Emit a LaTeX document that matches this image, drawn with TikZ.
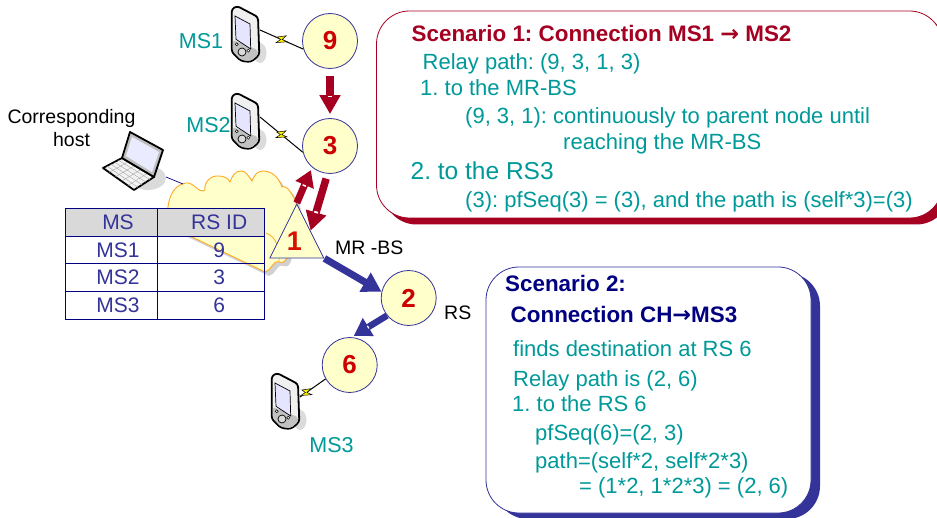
\documentclass[tikz,border=0pt]{standalone}
\usepackage{fontspec}
\setmainfont{Liberation Sans}
\newfontfamily\arrowfont{DejaVu Sans}
\usetikzlibrary{arrows.meta,calc,shapes.geometric}
\definecolor{teal1}{HTML}{009999}
\definecolor{blue1}{HTML}{333399}
\definecolor{navy1}{HTML}{000080}
\definecolor{red1}{HTML}{A50021}
\definecolor{digit}{HTML}{CC0000}
\definecolor{pale}{HTML}{FFFFCC}
\definecolor{cloudline}{HTML}{FFAA22}
\newcommand{\fs}[1]{\fontsize{#1pt}{#1pt}\selectfont}
\newcommand{\rarr}{{\arrowfont\bfseries →}}
\newcommand{\ca}[1]{\hspace*{13pt}\raisebox{-1.5pt}{#1}}
\newcommand{\cb}[1]{\hspace*{16pt}\raisebox{-1.5pt}{#1}}
\frenchspacing
\tikzset{
  rsnode/.style={circle,draw=blue1,line width=0.8pt,fill=pale,minimum size=55pt,inner sep=0pt,font=\fs{26}\bfseries,text=digit},
  bsnode/.style={isosceles triangle,isosceles triangle stretches,shape border rotate=90,draw=blue1,line width=0.8pt,fill=pale,minimum width=54pt,minimum height=54pt,inner sep=0pt,font=\fs{27}\bfseries,text=digit!85!orange},
  redarrow/.style={draw=red1,line width=7.5pt,-{Triangle[length=19pt,width=20pt]}},
  bluearrow/.style={draw=blue1,line width=7pt,-{Triangle[length=19pt,width=21pt]}},
  whitemark/.style={draw=white,line width=4pt},
  radiolink/.style={draw=black,line width=1pt},
  plainlink/.style={draw=navy1,line width=0.7pt},
  lab/.style={font=\fs{21.5},text=teal1,inner sep=0pt},
  blacklab/.style={font=\fs{19.5},text=black,inner sep=0pt},
  body/.style={font=\fs{22},text=teal1,inner sep=0pt,anchor=base west},
  title/.style={font=\fs{22.4}\bfseries,inner sep=0pt,anchor=base west},
  cell/.style={rectangle,draw=navy1,line width=1pt,inner sep=0pt,font=\fs{21},text=blue1},
  cellA/.style={cell,minimum width=92pt},
  cellB/.style={cell,minimum width=107.5pt},
  box/.style={rectangle,rounded corners=33pt,inner sep=0pt},
  phone/.pic={
    \fill[black!14] (29,47) ellipse (6.5 and 10);
    \draw[black,line width=1.8pt,fill=black!6,rounded corners=3pt] (0.7,3) -- (6,0) -- (27,11) -- (28.3,49) -- (20,56) -- (10,55) -- (0.7,46) -- cycle;
    \fill[black!24,rounded corners=2pt] (1.8,34) -- (27,44) -- (27,49) -- (20,55) -- (10,54) -- (1.8,45) -- cycle;
    \draw[black,line width=0.7pt,fill=blue!10!white] (4,10) -- (19,18) -- (19.7,43) -- (5,33.3) -- cycle;
    \draw[black,line width=0.7pt,fill=black!15] (11,46) circle (4);
    \draw[black,line width=0.5pt,fill=white] (5.7,38.3) circle (1.5);
    \draw[black,line width=0.5pt,fill=white] (17.3,44.7) circle (1.5);
    \coordinate (-port) at (29,24);
  },
  bolt/.pic={
    \draw[black,line width=0.5pt,fill=yellow] (-4.5,-2.5) -- (4.5,-3.8) -- (0.5,0) -- (5.5,2.2) -- (-5.5,3) -- (-1,0) -- cycle;
  },
}
\begin{document}
\begin{tikzpicture}[x=1pt,y=-1pt]
\clip (0,0) rectangle (937,518);
\fill[white] (0,0) rectangle (937,518);

% cloud
\def\cloudpath{(167,225) to[out=90,in=190] (186,183) to[out=10,in=-150] (205,190)
  to[out=100,in=175] (218,176) to[out=0,in=120] (230,182)
  to[out=70,in=180] (241,171) to[out=0,in=130] (252,181)
  to[out=70,in=180] (263,171) to[out=0,in=110] (282,187)
  to[out=30,in=-60] (296,205) -- (290,235)
  to[out=-100,in=-20] (279,262) to[out=160,in=10] (265,272) -- cycle}
\fill[black!18,shift={(4pt,-4pt)}] \cloudpath;
\draw[cloudline,line width=0.9pt,fill=pale] \cloudpath;
\draw[cloudline,line width=0.8pt] (266,233) to[out=-20,in=90] (279,262);

% phones
\pic (ph1) at (231,6) {phone};
\pic (ph2) at (231,93) {phone};
\pic (ph3) at (271,373) {phone};

% relay nodes
\node[rsnode] (n9) at (330,41) {9};
\node[rsnode] (n3) at (330,146) {3};
\node[rsnode] (n2) at (408.7,298) {2};
\node[rsnode] (n6) at (349.7,365) {6};

% table
\node[cellA,fill=black!15,minimum height=27.5pt] (h1) at (111.5,222.3) {\ca{MS}};
\node[cellB,fill=black!15,minimum height=27.5pt] (h2) at (211.2,222.3) {\cb{RS ID}};
\node[cellA,minimum height=27.7pt] (a1) at (111.5,250) {\ca{MS1}};
\node[cellB,minimum height=27.7pt] (b1) at (211.2,250) {\cb{9}};
\node[cellA,minimum height=27.7pt] (a2) at (111.5,277.7) {\ca{MS2}};
\node[cellB,minimum height=27.7pt] (b2) at (211.2,277.7) {\cb{3}};
\node[cellA,minimum height=27.7pt] (a3) at (111.5,305.3) {\ca{MS3}};
\node[cellB,minimum height=27.7pt] (b3) at (211.2,305.3) {\cb{6}};

% links to phones
\draw[radiolink] (ph1-port) -- coordinate[pos=.5] (m1) (n9.197);
\pic at (m1) {bolt};
\draw[radiolink] (ph2-port) -- coordinate[pos=.5] (m2) (n3.193);
\pic at (m2) {bolt};
\draw[radiolink] (ph3-port) -- coordinate[pos=.25] (m3) (n6.210);
\pic at (m3) {bolt};

% block arrows
\draw[redarrow,shorten <=7pt,shorten >=4pt] (n9.south) -- (n3.north);
\draw[whitemark] ($(n9.south)!.545!(n3.north)$) -- ($(n9.south)!.575!(n3.north)$);

% base station
\node[bsnode,anchor=apex] (n1) at (296.8,203) {\raisebox{4pt}{1}\hspace*{5pt}};

\draw[redarrow,-{Triangle[length=16pt,width=19pt]},line width=7pt,shorten >=3pt] (n1.apex) -- (n3.230);
\draw[whitemark,line width=3.5pt] ($(n1.apex)!.47!(n3.230)$) -- ($(n1.apex)!.51!(n3.230)$);
\coordinate (n1r) at ($(n1.apex)!.5!(n1.right corner)$);
\draw[redarrow,shorten <=5pt] (n3.265) -- (n1r);
\draw[whitemark] ($(n3.265)!.66!(n1r)$) -- ($(n3.265)!.69!(n1r)$);
\draw[bluearrow] (n1.right corner) -- (n2.167);
\draw[bluearrow,-{Triangle[length=17pt,width=20pt]},line width=6.5pt,shorten >=2.5pt] (n2.219) -- (n6.86);
\draw[whitemark,line width=3pt] ($(n2.219)!.52!(n6.86)$) -- ($(n2.219)!.55!(n6.86)$);

% laptop
\coordinate (lp) at (166,177);
\coordinate (cl) at (183,184);
\draw[plainlink] (lp) -- (cl);
\fill[black!14] (148,178) ellipse (18 and 12);
\draw[black,line width=1.8pt,fill=black!5,line join=round] (103,168) -- (122,158) -- (154,177) -- (134,190) -- cycle;
\foreach \t in {.2,.4,.6,.8}{
  \draw[black!35,line width=0.4pt] ($(103,168)!\t!(134,190)$) -- ($(122,158)!\t!(154,177)$);
  \draw[black!35,line width=0.4pt] ($(103,168)!\t!(122,158)$) -- ($(134,190)!\t!(154,177)$);
}
\draw[black,line width=1.8pt,fill=black!25,line join=round] (130,132) -- (163,150) -- (154,177) -- (122,158) -- cycle;
\fill[blue!8!white] (132,137) -- (159,152) -- (152,172) -- (126,156) -- cycle;

% labels
\node[lab] (lms1) at (201,41) {MS1};
\node[lab] (lms2) at (208.5,125) {MS2};
\node[lab] (lms3) at (331.5,445) {MS3};
\node[blacklab,align=center] (lch) at (71.5,128) {Corresponding\\[3pt]host};
\node[blacklab,anchor=west] (lbs) at (335,248) {MR -BS};
\node[blacklab,anchor=west] (lrs) at (444,313) {RS};

% scenario 1
\node[box,fill=red1,minimum width=566pt,minimum height=207pt] (s1) at (666.5,121) {};
\node[box,draw=red1,line width=0.8pt,fill=white,minimum width=566pt,minimum height=207pt] (b1box) at (659.5,114.5) {};
\node[title,text=red1] (t10) at (411.5,41.5) {Scenario 1: Connection MS1 \rarr\ MS2};
\node[body] (t11) at (422.5,70) {Relay path: (9, 3, 1, 3)};
\node[body] (t12) at (420,96) {1. to the MR-BS};
\node[body] (t13) at (465,124) {(9, 3, 1): continuously to parent node until};
\node[body] (t14) at (563,150) {reaching the MR-BS};
\node[body,font=\fs{24.5}] (t15) at (410.5,180) {2. to the RS3};
\node[body] (t16) at (465,208) {(3): pfSeq(3) = (3), and the path is (self*3)=(3)};

% scenario 2
\node[box,fill=blue1,minimum width=325pt,minimum height=246pt] (s2) at (657.5,396) {};
\node[box,draw=blue1,line width=0.8pt,fill=white,minimum width=325pt,minimum height=246pt] (b2box) at (648.5,390) {};
\node[title,text=navy1] (t20) at (505,292) {Scenario 2:};
\node[title,text=navy1] (t21) at (510.5,323) {Connection CH\rarr MS3};
\node[body] (t22) at (513,357) {finds destination at RS 6};
\node[body] (t23) at (513,387) {Relay path is (2, 6)};
\node[body] (t24) at (512,412) {1. to the RS 6};
\node[body] (t25) at (535,440) {pfSeq(6)=(2, 3)};
\node[body] (t26) at (535,468) {path=(self*2, self*2*3)};
\node[body] (t27) at (579,493) {= (1*2, 1*2*3) = (2, 6)};
\end{tikzpicture}
\end{document}
